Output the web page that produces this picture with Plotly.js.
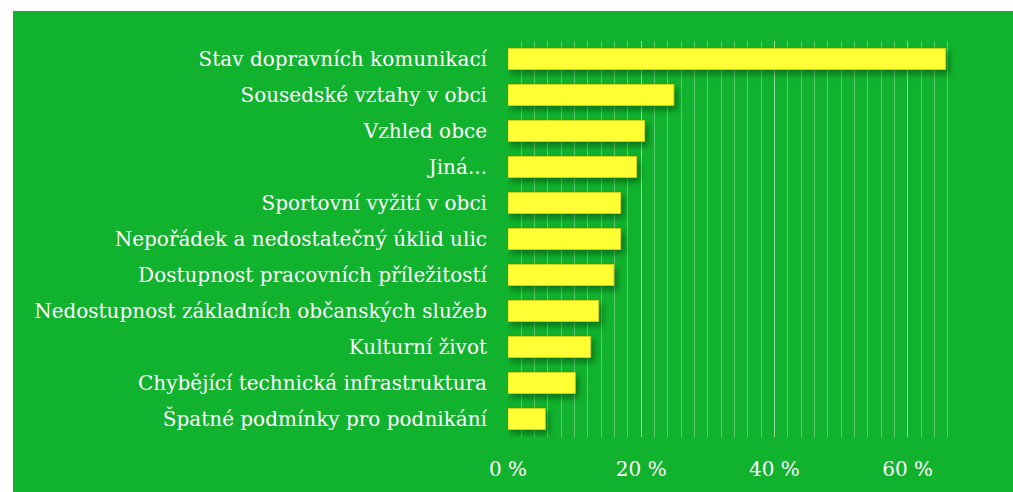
<!DOCTYPE html>
<html>
<head>
<meta charset="utf-8">
<script src="https://cdn.plot.ly/plotly-3.0.1.min.js"></script>
<style>
html,body{margin:0;padding:0;background:#ffffff;}
#chart{position:absolute;left:13px;top:11px;width:1000px;height:481px;}
#chart .barlayer .point path{filter:drop-shadow(3px 4px 3px rgba(0,40,0,0.45));}
</style>
</head>
<body>
<div id="chart"></div>
<script>
const categories = [
  "Stav dopravních komunikací",
  "Sousedské vztahy v obci",
  "Vzhled obce",
  "Jiná...",
  "Sportovní vyžití v obci",
  "Nepořádek a nedostatečný úklid ulic",
  "Dostupnost pracovních příležitostí",
  "Nedostupnost základních občanských služeb",
  "Kulturní život",
  "Chybějící technická infrastruktura",
  "Špatné podmínky pro podnikání"
];
const values = [65.7, 24.9, 20.5, 19.3, 16.9, 16.9, 15.9, 13.6, 12.4, 10.1, 5.6];
const tickSuffix = " %";

const font = "DejaVu Serif, Liberation Serif, serif";
const trace = {
  type: "bar",
  orientation: "h",
  x: values,
  y: categories,
  marker: {color: "#ffff33", line: {color: "#d6d21a", width: 1}},
  hoverinfo: "x+y"
};
const layout = {
  width: 1000, height: 481,
  margin: {l: 495, r: 52, t: 30, b: 55},
  paper_bgcolor: "#11b22d",
  plot_bgcolor: "#11b22d",
  bargap: 0.42,
  showlegend: false,
  font: {family: font, color: "#ffffff", size: 20},
  xaxis: {
    range: [0, 68],
    dtick: 20,
    ticksuffix: tickSuffix,
    showgrid: true,
    gridcolor: "rgba(255,255,255,0.55)",
    gridwidth: 1,
    zeroline: false,
    showline: false,
    ticks: "",
    ticklabelstandoff: 18,
    tickfont: {family: font, color: "#ffffff", size: 20},
    minor: {dtick: 2, showgrid: true, gridcolor: "rgba(255,255,255,0.32)", gridwidth: 1}
  },
  yaxis: {
    autorange: "reversed",
    showgrid: false,
    zeroline: false,
    showline: false,
    ticks: "",
    ticklabelstandoff: 20,
    tickfont: {family: font, color: "#ffffff", size: 20}
  }
};
Plotly.newPlot("chart", [trace], layout, {displayModeBar: false, staticPlot: true});
</script>
</body>
</html>
